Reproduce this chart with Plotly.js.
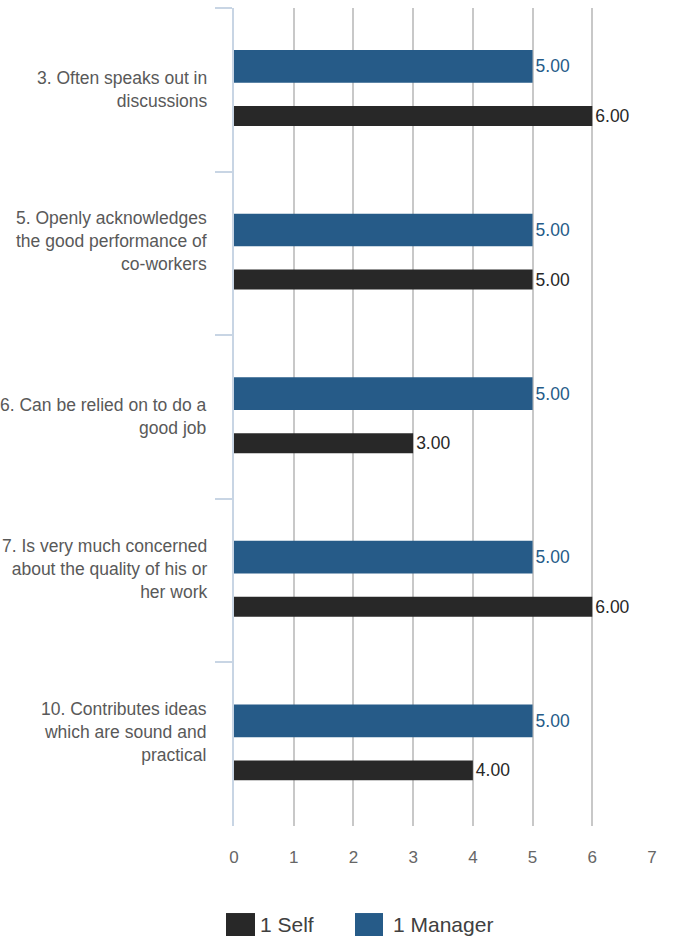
<!DOCTYPE html>
<html>
<head>
<meta charset="utf-8">
<script src="https://cdn.plot.ly/plotly-3.0.1.min.js"></script>
<style>html,body{margin:0;padding:0;background:#fff;}#chart{width:694px;height:944px;}</style>
</head>
<body>
<div id="chart"></div>
<script>
const categories = [
  "3. Often speaks out in<br>discussions",
  "5. Openly acknowledges<br>the good performance of<br>co-workers",
  "6. Can be relied on to do a<br>good job",
  "7. Is very much concerned<br>about the quality of his or<br>her work",
  "10. Contributes ideas<br>which are sound and<br>practical"
];
const selfValues = [6, 5, 3, 6, 4];
const managerValues = [5, 5, 5, 5, 5];
const xTicks = [0, 1, 2, 3, 4, 5, 6, 7];
const seriesNames = ["1 Self", "1 Manager"];

const FONT = "Liberation Sans, Arial, sans-serif";
const darkColor = "#282828";
const blueColor = "#265b88";
const seriesColors = [darkColor, blueColor];

const traces = [
  {
    type: "bar", orientation: "h", name: seriesNames[0],
    y: categories, x: selfValues,
    offset: 0.099, width: 0.122,
    marker: {color: darkColor},
    texttemplate: "%{x:.2f}", textposition: "outside", constraintext: "none",
    textfont: {family: FONT, size: 17.5, color: darkColor},
    cliponaxis: false, hoverinfo: "x", showlegend: false
  },
  {
    type: "bar", orientation: "h", name: seriesNames[1],
    y: categories, x: managerValues,
    offset: -0.243, width: 0.2,
    marker: {color: blueColor},
    texttemplate: "%{x:.2f}", textposition: "outside", constraintext: "none",
    textfont: {family: FONT, size: 17.5, color: blueColor},
    cliponaxis: false, hoverinfo: "x", showlegend: false
  }
];

// category labels (anchored so the last line sits just below the category centre)
const annotations = categories.map(c => ({
  xref: "paper", yref: "y", x: 0, y: c,
  text: c, showarrow: false, align: "right",
  xanchor: "right", yanchor: "bottom", xshift: -25, yshift: -23,
  font: {family: FONT, size: 17.5, color: "#595959"}
}));

// legend (custom, to get the large swatches of the reference)
const legendX = [[-0.0191, 0.0502], [0.2895, 0.3565]];
const legendTextX = [0.0575, 0.3757];
const shapes = [];
seriesNames.forEach((name, i) => {
  shapes.push({
    type: "rect", xref: "paper", yref: "paper",
    x0: legendX[i][0], x1: legendX[i][1], y0: -0.1345, y1: -0.1064,
    fillcolor: seriesColors[i], line: {width: 0}
  });
  annotations.push({
    xref: "paper", yref: "paper", x: legendTextX[i], y: -0.1210,
    xanchor: "left", yanchor: "middle", text: name, showarrow: false,
    font: {family: FONT, size: 21, color: "#404040"}
  });
});

const layout = {
  width: 694, height: 944,
  margin: {l: 234, r: 42, t: 8, b: 118, autoexpand: false},
  paper_bgcolor: "#ffffff", plot_bgcolor: "#ffffff",
  barmode: "overlay",
  font: {family: FONT, color: "#595959"},
  xaxis: {
    range: [0, 7], tickvals: xTicks, ticktext: xTicks.map(String),
    showgrid: true, gridcolor: "#c8c8c8", gridwidth: 2,
    zeroline: false, showline: false, ticks: "",
    tickfont: {family: FONT, size: 17, color: "#666666"},
    ticklabelstandoff: 19, automargin: false, fixedrange: true
  },
  yaxis: {
    type: "category", categoryarray: categories, categoryorder: "array",
    range: [4.5, -0.5],
    showgrid: false, zeroline: false,
    showline: true, linecolor: "#c8d5e4", linewidth: 2,
    ticks: "outside", tickson: "boundaries", ticklen: 17, tickwidth: 2, tickcolor: "#c8d5e4",
    showticklabels: false, automargin: false, fixedrange: true
  },
  showlegend: false,
  shapes: shapes,
  annotations: annotations
};

Plotly.newPlot("chart", traces, layout, {displayModeBar: false, staticPlot: true});
</script>
</body>
</html>
